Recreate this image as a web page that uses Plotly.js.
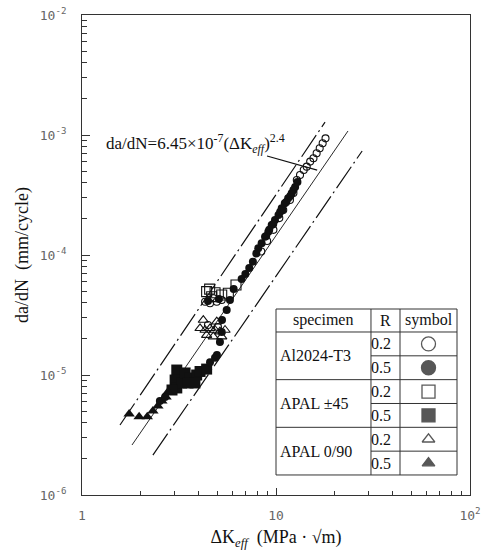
<!DOCTYPE html>
<html><head><meta charset="utf-8">
<script src="https://cdn.plot.ly/plotly-3.0.1.min.js"></script>
<style>html,body{margin:0;padding:0;background:#fff;} #chart{width:491px;height:550px;}</style>
</head><body><div id="chart"></div>
<script>
// ---- data ----
const alR02X = [4.31, 4.57, 4.75, 4.95, 5.25, 4.46, 5.02, 8.4, 9.0, 9.7, 10.4, 10.9, 11.8, 12.3, 12.8, 13.3, 13.9, 14.4, 15.0, 15.6, 16.2, 16.8, 17.4, 18.0];
const alR02Y = [4.08e-5, 3.96e-5, 4.36e-5, 4.08e-5, 4.22e-5, 2.61e-5, 2.51e-5, 1.07e-4, 1.31e-4, 1.62e-4, 2.03e-4, 2.37e-4, 2.87e-4, 3.29e-4, 4.22e-4, 4.64e-4, 5.11e-4, 5.45e-4, 6.0e-4, 6.4e-4, 7.04e-4, 7.75e-4, 8.53e-4, 9.38e-4];
const alR05X = [2.52, 2.68, 4.57, 4.85, 4.96, 5.14, 5.25, 5.27, 5.57, 5.79, 6.05, 6.65, 6.95, 7.28, 7.6, 7.92, 8.1, 8.43, 8.78, 9.13, 9.5, 9.88, 10.3, 10.7, 11.1, 11.55, 12.05, 12.55, 12.9, 8.9, 9.68, 10.5, 11.3, 11.85, 12.3, 10.8, 9.23, 4.46, 5.08];
const alR05Y = [6.07e-6, 6.56e-6, 1.28e-5, 1.39e-5, 1.47e-5, 1.88e-5, 2.28e-5, 2.87e-5, 3.48e-5, 4.22e-5, 5.21e-5, 6.31e-5, 6.95e-5, 7.79e-5, 8.79e-5, 1.03e-4, 1.14e-4, 1.25e-4, 1.42e-4, 1.56e-4, 1.78e-4, 1.96e-4, 2.15e-4, 2.45e-4, 2.70e-4, 2.97e-4, 3.27e-4, 3.69e-4, 4.06e-4, 1.44e-4, 1.81e-4, 2.28e-4, 2.77e-4, 3.10e-4, 3.48e-4, 2.37e-4, 1.62e-4, 4.14e-5, 4.30e-5];
const p45R02X = [4.39, 4.66, 4.85, 5.25, 5.68, 6.22, 4.55];
const p45R02Y = [4.95e-5, 4.49e-5, 4.85e-5, 4.64e-5, 4.80e-5, 5.62e-5, 5.2e-5];
const p45R05X = [3.08, 3.02, 3.08, 3.26, 3.40, 3.60, 3.90, 4.06, 4.39, 3.82, 3.52, 2.91];
const p45R05Y = [1.10e-5, 9.08e-6, 7.8e-6, 8.58e-6, 1.04e-5, 9.44e-6, 1.0e-5, 1.07e-5, 1.12e-5, 8.58e-6, 8.58e-6, 7.5e-6];
const p090R02X = [4.22, 4.95, 4.06, 4.31, 4.57, 4.85, 5.14, 4.39, 4.75, 5.25, 5.46];
const p090R02Y = [2.87e-5, 2.78e-5, 2.45e-5, 2.37e-5, 2.45e-5, 2.37e-5, 2.30e-5, 2.15e-5, 2.09e-5, 2.09e-5, 2.37e-5];
const p090R05X = [1.75, 1.97, 2.17, 2.32, 2.46, 2.58, 2.71, 2.77];
const p090R05Y = [4.73e-6, 4.49e-6, 4.49e-6, 5.0e-6, 5.52e-6, 6.07e-6, 6.56e-6, 7.22e-6];

const upperX = [1.57, 17.9], upperY = [3.83e-6, 1.28e-3];
const fitX = [1.81, 23.5], fitY = [2.61e-6, 1.08e-3];
const lowerX = [2.32, 27.8], lowerY = [2.15e-6, 7.36e-4];
const pointerX = [8.99, 16.3], pointerY = [6.68e-4, 5.1e-4];

const xTickVals = [1, 10, 100];
const xTickText = ["1", "10", "10<sup>2</sup>"];
const yTickVals = [1e-6, 1e-5, 1e-4, 1e-3, 1e-2];
const yTickText = ["10<sup>-6</sup>", "10<sup>-5</sup>", "10<sup>-4</sup>", "10<sup>-3</sup>", "10<sup>-2</sup>"];

const specimens = ["Al2024-T3", "APAL \u00b145", "APAL 0/90"];
const rValues = ["0.2", "0.5"];
const legendSymbols = ["circle-open", "circle", "square-open", "square", "triangle-up-open", "triangle-up"];

// ---- build ----
const minorX = [], minorY = [];
for (let d = 0; d < 2; d++) for (let k = 2; k <= 9; k++) minorX.push(k * Math.pow(10, d));
for (let d = -6; d < -2; d++) for (let k = 2; k <= 9; k++) minorY.push(k * Math.pow(10, d));

const ink = '#111';
const traces = [
  {x: upperX, y: upperY, mode: 'lines', line: {color: ink, width: 1.2, dash: '26px,4px,2px,4px'}},
  {x: fitX, y: fitY, mode: 'lines', line: {color: ink, width: 0.9}},
  {x: lowerX, y: lowerY, mode: 'lines', line: {color: ink, width: 1.2, dash: '26px,4px,2px,4px'}},
  {x: pointerX, y: pointerY, mode: 'lines', line: {color: ink, width: 1.2}},
  {x: p45R05X, y: p45R05Y, mode: 'markers', marker: {symbol: 'square', size: 11, color: ink}},
  {x: p090R05X, y: p090R05Y, mode: 'markers', marker: {symbol: 'triangle-up', size: 10, color: ink}},
  {x: alR05X, y: alR05Y, mode: 'markers', marker: {symbol: 'circle', size: 8, color: ink}},
  {x: p45R02X, y: p45R02Y, mode: 'markers', marker: {symbol: 'square-open', size: 10, color: ink, line: {width: 1.1}}},
  {x: p090R02X, y: p090R02Y, mode: 'markers', marker: {symbol: 'triangle-up-open', size: 9, color: ink, line: {width: 1.1}}},
  {x: alR02X, y: alR02Y, mode: 'markers', marker: {symbol: 'circle-open', size: 7, color: ink, line: {width: 1.1}}}
];

// legend table geometry (paper coords of plot area)
const tL = 0.50, tR = 0.9665, tT = 0.3875, tB = 0.0417, hdr = 0.3396;
const c1 = 0.7448, c2 = 0.8196;
const rowH = (hdr - tB) / 6;
const rowY = [], lx = [], ly = [], sym = [];
for (let i = 0; i < 6; i++) {
  rowY.push(hdr - rowH * (i + 0.5));
  lx.push((c2 + tR) / 2); ly.push(hdr - rowH * (i + 0.5)); sym.push(legendSymbols[i]);
}
traces.push({x: lx, y: ly, xaxis: 'x2', yaxis: 'y2', mode: 'markers', cliponaxis: false,
  marker: {symbol: sym, size: [14, 14, 13, 13, 11, 11], color: ink, line: {width: 1.3, color: ink}}});

const lc = '#333';
const shapes = [];
const L = (x0, y0, x1, y1) => shapes.push({type: 'line', xref: 'paper', yref: 'paper', x0, y0, x1, y1, line: {color: lc, width: 1}});
L(tL, tT, tR, tT); L(tL, tB, tR, tB); L(tL, tT, tL, tB); L(tR, tT, tR, tB);
L(tL, hdr, tR, hdr);
L(c1, tT, c1, tB); L(c2, tT, c2, tB);
for (let i = 1; i < 6; i++) {
  const yy = hdr - rowH * i;
  if (i % 2 === 0) L(tL, yy, tR, yy); else L(c1, yy, tR, yy);
}

const serif = 'Liberation Serif, Times New Roman, serif';
const ann = [];
const A = (text, x, y, xanchor, size) => ann.push({text, x, y, xref: 'paper', yref: 'paper', xanchor, yanchor: 'middle', showarrow: false, font: {family: serif, size: size || 16, color: ink}});
A('specimen', (tL + c1) / 2, (tT + hdr) / 2, 'center');
A('R', (c1 + c2) / 2, (tT + hdr) / 2, 'center');
A('symbol', (c2 + tR) / 2, (tT + hdr) / 2, 'center');
for (let g = 0; g < 3; g++) {
  A(specimens[g], tL + 0.006, hdr - rowH * (2 * g + 1), 'left');
  for (let r = 0; r < 2; r++) A(rValues[r], c1 - 0.004, rowY[2 * g + r], 'left');
}
A('da/dN=6.45\u00d710<sup>-7</sup>(\u0394K<sub><i>eff</i></sub>)<sup>2.4</sup>', 0.057, 0.733, 'left', 17);

const tickFont = {family: 'DejaVu Sans Mono, monospace', size: 13, color: '#666'};
const layout = {
  width: 491, height: 550,
  margin: {l: 82, r: 21, t: 15, b: 55},
  paper_bgcolor: '#fff', plot_bgcolor: '#fff',
  showlegend: false,
  xaxis: {type: 'log', range: [0, 2], showline: true, mirror: true, linecolor: lc, linewidth: 1,
    showgrid: false, zeroline: false, ticks: 'inside', ticklen: 7, tickcolor: lc, ticklabelstandoff: 8,
    tickmode: 'array', tickvals: xTickVals, ticktext: xTickText, tickfont: tickFont,
    minor: {tickmode: 'array', tickvals: minorX, ticks: 'inside', ticklen: 4, tickcolor: lc, showgrid: false},
    title: {text: '\u0394K<sub><i>eff</i></sub>  (MPa \u00b7 \u221am)', font: {family: serif, size: 18, color: ink}, standoff: 10}},
  yaxis: {type: 'log', range: [-6, -2], showline: true, mirror: true, linecolor: lc, linewidth: 1,
    showgrid: false, zeroline: false, ticks: 'inside', ticklen: 8, tickcolor: lc, ticklabelstandoff: 12,
    tickmode: 'array', tickvals: yTickVals, ticktext: yTickText, tickfont: tickFont,
    minor: {tickmode: 'array', tickvals: minorY, ticks: 'inside', ticklen: 5, tickcolor: lc, showgrid: false},
    title: {text: 'da/dN  (mm/cycle)', font: {family: serif, size: 18, color: ink}, standoff: 6}},
  xaxis2: {overlaying: 'x', range: [0, 1], visible: false, anchor: 'y2'},
  yaxis2: {overlaying: 'y', range: [0, 1], visible: false, anchor: 'x2'},
  shapes: shapes,
  annotations: ann
};
Plotly.newPlot('chart', traces, layout, {staticPlot: true, displayModeBar: false});
</script>
</body></html>
